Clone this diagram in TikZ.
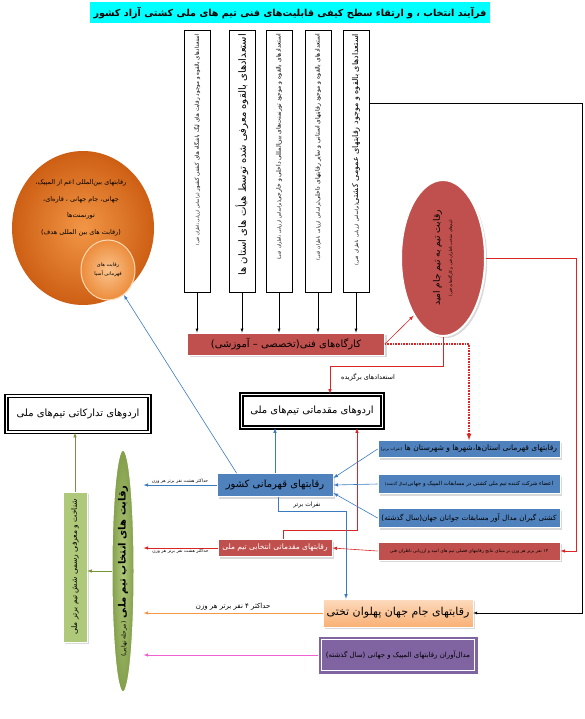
\documentclass[tikz,border=0pt]{standalone}
\usepackage{fontspec}
\newfontfamily\farsi[Script=Arabic]{DejaVu Sans}
\TeXXeTstate=1
\usetikzlibrary{shapes.geometric,shadows}
\newcommand{\fatxt}[1]{{\farsi\beginR #1\endR}}
\definecolor{kred}{HTML}{C0504D}
\definecolor{kblue}{HTML}{4F81BD}
\definecolor{kgreen}{HTML}{9BBB59}
\definecolor{lgreen}{HTML}{77933C}
\definecolor{kpurple}{HTML}{8064A2}
\definecolor{kcyan}{HTML}{00FFFF}
\definecolor{ablue}{HTML}{3A7BC0}
\definecolor{ared}{HTML}{D92525}
\definecolor{aorange}{HTML}{F79646}
\definecolor{apink}{HTML}{F060D0}
\begin{document}
\begin{tikzpicture}[x=1pt,y=-1pt]
  \tikzset{ v/.style={draw,fill=white,rotate=90,minimum width=262pt,minimum height=26pt,
      text width=254pt,align=right,inner sep=2pt},
    rb/.style={draw=white,line width=0.8pt,fill=kred,drop shadow={opacity=0.3},inner sep=1pt},
    bb/.style={draw=white,line width=0.8pt,fill=kblue,drop shadow={opacity=0.3},inner sep=1pt},
    src/.style={bb,minimum width=182pt},
    camp/.style={draw,line width=1.4pt,double=white,double distance=1.6pt,fill=white,inner sep=2pt},
    lbl/.style={inner sep=1pt,text=black,font=\fontsize{4.5}{5}\selectfont},
    ab/.style={ablue,semithick,-latex},
    ar/.style={ared,semithick,-latex},
  }
  \useasboundingbox (0,0) rectangle (584,719);
  % the title
  \node[fill=kcyan,minimum width=400pt,minimum height=21pt,inner sep=1pt,
    font=\bfseries\fontsize{9.6}{12}\selectfont] (tt) at (290,13)
    {\fatxt{فرآیند انتخاب ، و ارتقاء سطح کیفی قابلیت‌های فنی تیم های ملی کشتی آزاد کشور}};
  % the five sources
  \node[v,font=\fontsize{5.5}{6}\selectfont] (v1) at (197,161)
    {\fatxt{استعدادهای بالقوه و موجود رقابت های لیگ باشگاه های کشتی کشور {\fontsize{4}{5}\selectfont(براساس ارزیابی ناظران فنی)}}};
  \node[v,font=\fontsize{10}{12}\selectfont] (v2) at (242,161)
    {\fatxt{استعدادهای بالقوه معرفی شده توسط هیأت های استان ها}};
  \node[v,font=\fontsize{6}{7}\selectfont] (v3) at (279,161)
    {\fatxt{استعدادهای بالقوه و موجود تورنمنت‌های بین‌المللی داخلی و خارجی{\fontsize{4.5}{5}\selectfont(براساس ارزیابی ناظران فنی)}}};
  \node[v,font=\fontsize{6}{7}\selectfont] (v4) at (318,161)
    {\fatxt{استعدادهای بالقوه و موجود رقابتهای استانی و سایر رقابتهای داخلی{\fontsize{4.5}{5}\selectfont(براساس ارزیابی ناظران فنی)}}};
  \node[v,font=\fontsize{8}{9}\selectfont] (v5) at (356,161)
    {\fatxt{استعدادهای بالقوه و موجود رقابتهای عمومی کشتی{\fontsize{4.5}{5}\selectfont(براساس ارزیابی ناظران فنی)}}};
  % the workshops and the hope cup
  \node[rb,minimum width=197pt,minimum height=22pt,font=\fontsize{10}{12}\selectfont] (kg) at (286,344)
    {\fatxt{کارگاه‌های فنی(تخصصی – آموزشی)}};
  \node[ellipse,rotate=90,fill=kred,draw=white,line width=2pt,drop shadow={opacity=0.3},
    minimum width=156pt,minimum height=84pt,align=center,inner sep=0pt] (jo) at (443,258)
    {\fatxt{\fontsize{9}{11}\selectfont رقابت تیم به تیم جام امید}\\
     \fatxt{\fontsize{4}{5}\selectfont (تیم‌های منتخب ناظران فنی و کارگاه‌های فنی)}};
  % the camps
  \node[camp,minimum width=141pt,minimum height=33pt,font=\fontsize{10}{12}\selectfont] (aM) at (312,411)
    {\fatxt{اردوهای مقدماتی تیم‌های ملی}};
  \node[camp,minimum width=143pt,minimum height=36pt,font=\fontsize{10}{12}\selectfont] (aT) at (78,414)
    {\fatxt{اردوهای تدارکاتی تیم‌های ملی}};
  % the international goals
  \node[ellipse,minimum width=142pt,minimum height=154pt,
    inner color={rgb,255:red,242;green,150;blue,70},outer color={rgb,255:red,205;green,95;blue,20}] (oB) at (83,228) {};
  \node[align=center,font=\fontsize{6.5}{16.5}\selectfont] (oT) at (81,208)
    {\fatxt{رقابتهای بین‌المللی اعم از المپیک،}\\\fatxt{جهانی، جام جهانی ، قاره‌ای،}\\
     \fatxt{تورنمنت‌ها}\\\fatxt{(رقابت های بین المللی هدف)}};
  \node[ellipse,draw=white!70!orange,line width=1pt,minimum width=54pt,minimum height=60pt,align=center,
    inner color={rgb,255:red,250;green,195;blue,140},outer color={rgb,255:red,236;green,140;blue,60},
    font=\fontsize{5}{9}\selectfont] (oS) at (108,270) {\fatxt{رقابت های}\\\fatxt{قهرمانی آسیا}};
  % the national competitions
  \node[bb,minimum width=116pt,minimum height=23pt,font=\fontsize{10}{12}\selectfont] (qK) at (275,485)
    {\fatxt{رقابتهای قهرمانی کشور}};
  \node[rb,minimum width=114pt,minimum height=17pt,text=white,font=\fontsize{7.5}{9}\selectfont] (mE) at (275,548)
    {\fatxt{رقابتهای مقدماتی انتخابی تیم ملی}};
  \node[src,minimum height=17pt,font=\fontsize{7.6}{9}\selectfont] (sA) at (469,449)
    {\fatxt{رقابتهای قهرمانی استان‌ها،شهرها و شهرستان ها {\fontsize{4}{5}\selectfont(نفرات برتر)}}};
  \node[src,minimum height=19pt,font=\fontsize{5.5}{7}\selectfont] (sB) at (469,484)
    {\fatxt{اعضاء شرکت کننده تیم ملی کشتی در مسابقات المپیک و جهانی{\fontsize{4}{5}\selectfont(سال گذشته)}}};
  \node[src,minimum height=19pt,font=\fontsize{7.2}{9}\selectfont] (sC) at (469,518)
    {\fatxt{کشتی گیران مدال آور مسابقات جوانان جهان(سال گذشته)}};
  \node[rb,minimum width=182pt,minimum height=18pt,font=\fontsize{4.5}{5}\selectfont] (sD) at (469,551)
    {\fatxt{۱۴ نفر برتر هر وزن بر مبنای نتایج رقابتهای فصلی تیم های امید و ارزیابی ناظران فنی}};
  \node[draw=white,top color=aorange!35,bottom color=aorange!75,drop shadow={opacity=0.3},
    minimum width=150pt,minimum height=28pt,font=\fontsize{11}{13}\selectfont] (jT) at (398,613)
    {\fatxt{رقابتهای جام جهان پهلوان تختی}};
  \node[fill=kpurple,minimum width=159pt,minimum height=37pt,font=\fontsize{7}{9}\selectfont] (mA) at (398,655)
    {\fatxt{مدال‌آوران رقابتهای المپیک و جهانی (سال گذشته)}};
  \draw[white,line width=0.7pt,double=kpurple,double distance=0.8pt]
    ([shift={(4pt,-4pt)}]mA.north west) rectangle ([shift={(-4pt,4pt)}]mA.south east);
  % the final selection
  \node[ellipse,rotate=90,draw=white,line width=1pt,inner color=kgreen!80!white,outer color=kgreen!85!black,
    minimum width=238pt,minimum height=22pt,inner sep=0pt,font=\bfseries\fontsize{10}{12}\selectfont] (eG) at (123,571)
    {\fatxt{رقابت های انتخاب تیم ملی {\mdseries\fontsize{6}{7}\selectfont(مرحله نهایی)}}};
  \node[rotate=90,draw=white,fill=kgreen!80,drop shadow={opacity=0.3},minimum width=150pt,minimum height=24pt,
    font=\fontsize{7.5}{9}\selectfont] (bG) at (75,567) {\fatxt{شناخت و معرفی رسمی شش تیم برتر ملی}};
  \coordinate (bk) at (582,103);
  \coordinate (tip) at ([xshift=9pt]eG.south);
  % the connection between the boxes
  \draw[-latex] (v1.west) -- (v1.west |- kg.north);
  \draw[-latex] (v2.west) -- (v2.west |- kg.north);
  \draw[-latex] (v3.west) -- (v3.west |- kg.north);
  \draw[-latex] (v4.west) -- (v4.west |- kg.north);
  \draw[-latex] (v5.west) -- (v5.west |- kg.north);
  \draw[-latex] (v5.south |- bk) -- (bk) |- (jT.east);
  \draw[ar] (kg.east) -- (jo.153);
  \draw[ar,densely dotted,line width=1.2pt] (kg.east) -| (sA.north);
  \draw[ar] (jo.south) -| ([xshift=16pt]sD.east) -- (sD.east);
  \draw[ar] (jo.west) -- ++(0,29) -| ([xshift=18pt]aM.north);
  \node[font=\fontsize{6.5}{8}\selectfont] (bz) at (368,377) {\fatxt{استعدادهای برگزیده}};
  \draw[ab] ([xshift=20pt]qK.north west) -- (oS);
  \draw[ab] (qK.north) -- (qK.north |- aM.south);
  \draw[ar] ([xshift=8pt]mE.north) -- ++(0,-9) -| ([xshift=45pt]aM.south);
  \draw[ab] ([xshift=3pt]qK.south) -- ++(0,14) -| ([xshift=-52pt]jT.north);
  \node[font=\fontsize{6}{7}\selectfont] (nb) at (307,505) {\fatxt{نفرات برتر}};
  \draw[ab] (sA.west) -- ([yshift=7pt]qK.east);
  \draw[ab] (sB.west) -- (qK.east);
  \draw[ab] (sC.west) -- ([yshift=-8pt]qK.east);
  \draw[ar] (sD.west) -- (mE.east);
  \draw[ab] (qK.west) -- (qK.west -| tip) node[midway,above,lbl] (l1) {\fatxt{حداکثر هشت نفر برتر هر وزن}};
  \draw[ar] (mE.west) -- (mE.west -| tip) node[midway,below,lbl] (l2) {\fatxt{حداکثر هشت نفر برتر هر وزن}};
  \draw[aorange,semithick,-latex] (jT.west) -- (jT.west -| tip)
    node[midway,above,inner sep=2pt,text=black,font=\fontsize{7}{8}\selectfont] (l3) {\fatxt{حداکثر ۴ نفر برتر هر وزن}};
  \draw[apink,semithick,-latex] (mA.west) -- (mA.west -| tip);
  \draw[lgreen,semithick,-latex] (eG.north) -- (eG.north -| bG.south);
  \draw[lgreen,semithick,-latex] (bG.east) -- (bG.east |- aT.south);
\end{tikzpicture}
\end{document}
